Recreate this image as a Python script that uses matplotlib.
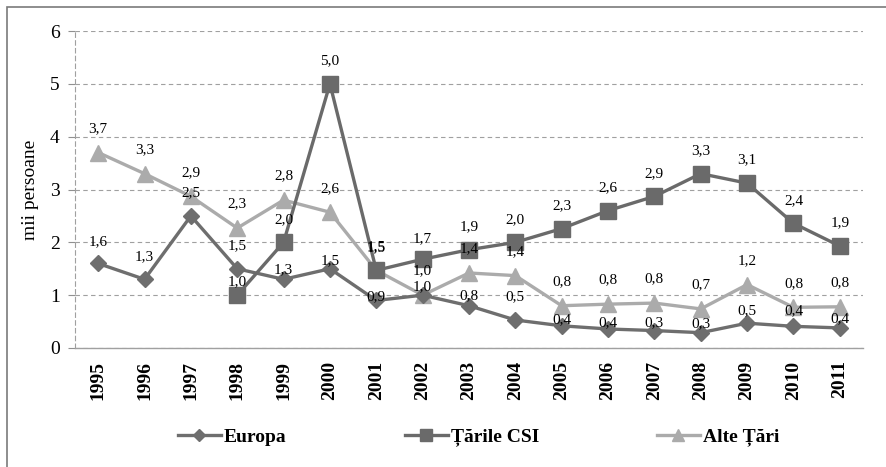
import matplotlib
matplotlib.use("Agg")
import matplotlib.pyplot as plt
from matplotlib.patches import Rectangle
import numpy as np

years = [str(y) for y in range(1995, 2012)]

europa = [1.6, 1.3, 2.5, 1.5, 1.3, 1.5, 0.9, 1.0, 0.8, 0.53, 0.42, 0.36,
          0.33, 0.29, 0.47, 0.41, 0.38]
csi = [np.nan, np.nan, np.nan, 1.0, 2.0, 5.0, 1.47, 1.68, 1.86, 2.0, 2.26,
       2.6, 2.87, 3.3, 3.12, 2.36, 1.93]
alte = [3.7, 3.3, 2.87, 2.27, 2.8, 2.57, 1.47, 1.0, 1.42, 1.37, 0.8, 0.83,
        0.85, 0.74, 1.2, 0.77, 0.78]

# label offsets above marker (pixels), Europa labels sit at varying heights
off_europa = [22, 23, 23, 23, 10, 8, 4, 8, 10, 23, 6, 6, 8, 9, 12, 16, 9]
off_csi = [0, 0, 0, 13, 23, 23, 23, 21, 23, 23, 23, 23, 23, 23, 23, 23, 23]
off_alte = [24] * 17

plt.rcParams['font.family'] = ['Liberation Serif', 'DejaVu Serif']

fig = plt.figure(figsize=(8.87, 4.67), dpi=100)
fig.patches.append(Rectangle((7 / 887, -0.05), 1.1, 1 - 7 / 467 + 0.05,
                             transform=fig.transFigure, fill=False,
                             edgecolor='#7a7a7a', linewidth=1.2))
ax = fig.add_axes([75 / 887, 1 - 348 / 467, 788 / 887, 317 / 467])

x = np.arange(len(years))
c_eu = '#6e6e6e'
c_csi = '#6a6a6a'
c_alte = '#ababab'

l1, = ax.plot(x, europa, color=c_eu, lw=2.4, marker='D', ms=8, label='Europa', zorder=3)
l2, = ax.plot(x, csi, color=c_csi, lw=2.4, marker='s', ms=11, label='Țările CSI', zorder=4)
l3, = ax.plot(x, alte, color=c_alte, lw=2.4, marker='^', ms=11, label='Alte Țări', zorder=2)

def labels(vals, offs):
    for i, v in enumerate(vals):
        if np.isnan(v):
            continue
        ax.annotate(f"{v:.1f}".replace('.', ','), (x[i], v),
                    xytext=(0, offs[i] * 0.72), textcoords='offset points',
                    ha='center', va='center', fontsize=11, zorder=6)

labels(europa, off_europa)
labels(csi, off_csi)
labels(alte, off_alte)

ax.set_xlim(-0.5, len(years) - 0.5)
ax.set_ylim(0, 6)
ax.set_yticks(range(0, 7))
ax.set_xticks(x)
ax.set_xticklabels(years, rotation=90, fontsize=14, fontweight='bold')
ax.tick_params(axis='x', length=0, pad=9)
ax.tick_params(axis='y', length=5, color='#909090', labelsize=14, pad=6)
ax.grid(axis='y', linestyle=(0, (4, 3)), color='#a0a0a0', linewidth=0.8)
for s in ['top', 'right']:
    ax.spines[s].set_visible(False)
ax.spines['left'].set_linestyle((0, (4, 3)))
ax.spines['left'].set_color('#a0a0a0')
ax.spines['left'].set_linewidth(0.8)
ax.spines['bottom'].set_color('#a0a0a0')
ax.spines['bottom'].set_linewidth(1.0)
ax.set_axisbelow(True)

ax.set_ylabel('mii persoane', fontsize=14, labelpad=8)

# Excel spreads legend entries evenly, so one legend per entry
for h, xl in zip([l1, l2, l3], [178, 405, 657]):
    fig.legend(handles=[h], loc='center left',
               bbox_to_anchor=(xl / 887, 1 - 437 / 467),
               frameon=False, handlelength=2.2, handletextpad=0.15,
               borderpad=0, borderaxespad=0,
               prop={'family': 'Liberation Serif', 'weight': 'bold', 'size': 14},
               markerscale=0.8)

fig.savefig('out.png', dpi=100)
